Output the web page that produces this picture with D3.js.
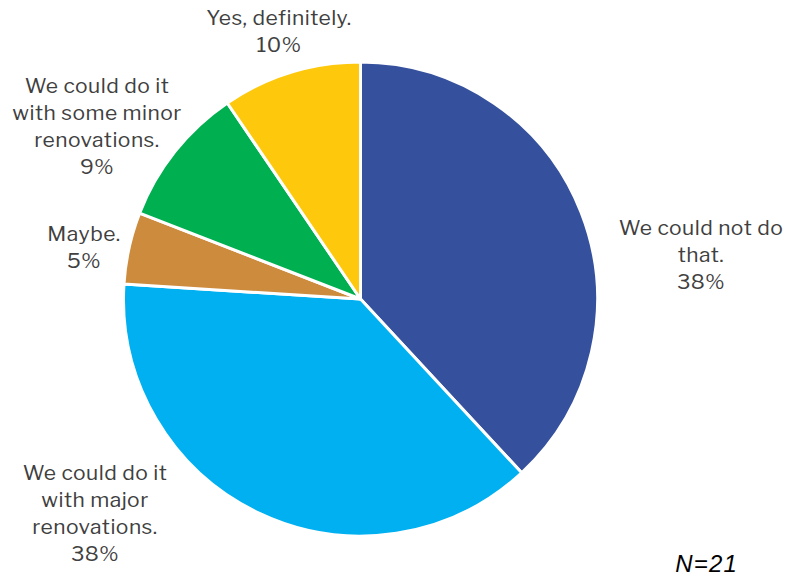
<!DOCTYPE html>
<html>
<head>
<meta charset="utf-8">
<script src="https://cdn.jsdelivr.net/npm/d3@7"></script>
<style>
  html, body { margin: 0; padding: 0; background: #fff; }
  svg { display: block; }
</style>
</head>
<body>
<svg id="chart" width="787" height="577"></svg>
<script>
// ---- data ----
const categories = [
  "We could not do that.",
  "We could do it with major renovations.",
  "Maybe.",
  "We could do it with some minor renovations.",
  "Yes, definitely."
];
const values = [38.1, 37.9, 4.9, 9.6, 9.5];
const percentLabels = ["38%", "38%", "5%", "9%", "10%"];
const sampleNote = "N=21";

// ---- style / layout ----
const colors = ["#35519D", "#00B0F0", "#CD8B3E", "#00B050", "#FEC90C"];
const labelLines = [
  ["We could not do", "that."],
  ["We could do it", "with major", "renovations."],
  ["Maybe."],
  ["We could do it", "with some minor", "renovations."],
  ["Yes, definitely."]
];
const labelAnchor = [[701, 228], [95, 473], [84, 234], [97, 86], [279, 18]];
const cx = 360.5, cy = 299, R = 237;
const lineH = 26.8;
const font = "'Libre Franklin', 'Franklin Gothic Book', 'Open Sans', sans-serif";

const svg = d3.select("#chart");
const pie = d3.pie().sort(null).value(d => d);
const arc = d3.arc().innerRadius(0).outerRadius(R);
const arcs = pie(values);

const g = svg.append("g").attr("transform", `translate(${cx},${cy})`);
g.selectAll("path").data(arcs).join("path")
  .attr("d", arc)
  .attr("fill", (d, i) => colors[i])
  .attr("stroke", "#fff")
  .attr("stroke-width", 3)
  .attr("stroke-linejoin", "round");

const labels = svg.append("g")
  .attr("font-family", font)
  .attr("font-size", 21)
  .attr("letter-spacing", 0.45)
  .attr("fill", "#404040")
  .attr("text-anchor", "middle");

categories.forEach((c, i) => {
  const lines = labelLines[i].concat([percentLabels[i]]);
  const t = labels.append("text")
    .attr("x", labelAnchor[i][0])
    .attr("y", labelAnchor[i][1]);
  lines.forEach((ln, j) => {
    t.append("tspan")
      .attr("x", labelAnchor[i][0])
      .attr("y", labelAnchor[i][1] + j * lineH)
      .attr("dy", "0.35em")
      .text(ln);
  });
});

svg.append("text")
  .attr("x", 738).attr("y", 572)
  .attr("text-anchor", "end")
  .attr("font-family", "'Liberation Sans', Arial, sans-serif")
  .attr("font-style", "italic")
  .attr("font-size", 24)
  .attr("letter-spacing", 1.2)
  .attr("fill", "#000")
  .text(sampleNote);
</script>
</body>
</html>
